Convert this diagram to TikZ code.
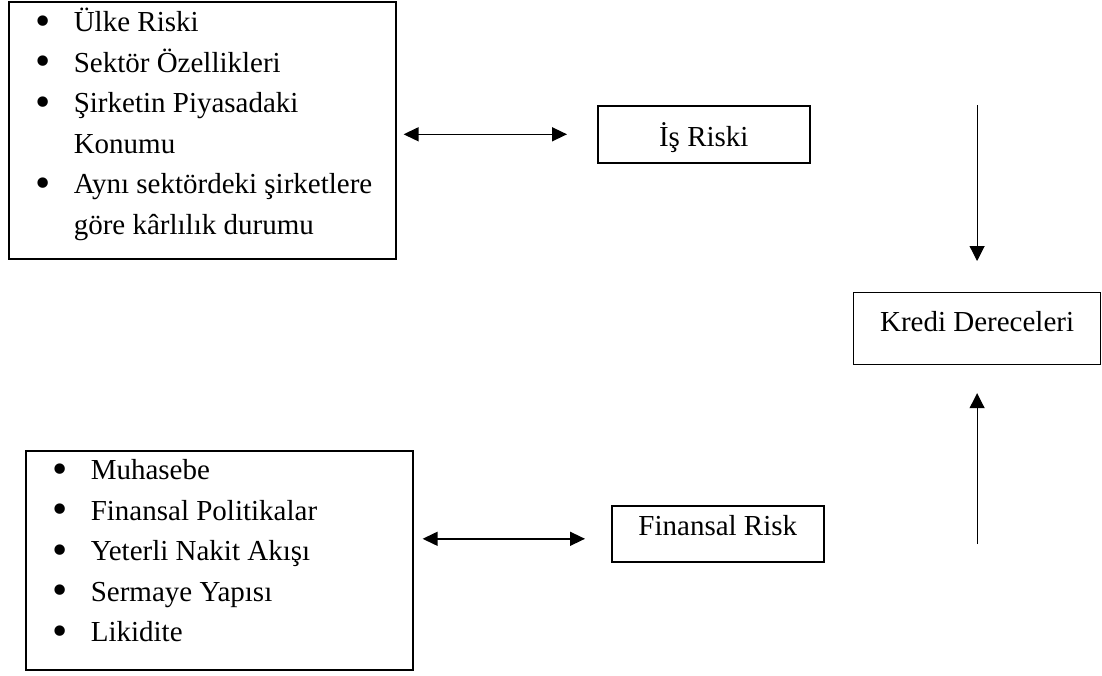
\documentclass[tikz,border=0pt]{standalone}
\usepackage{fontspec}
\usepackage{graphicx}
\setmainfont{Liberation Serif}
\usetikzlibrary{arrows.meta}

\newcommand{\madde}{\makebox[65pt][l]{\hspace{27pt}\raisebox{-3.5pt}{\scalebox{1.5}{\textbullet}}}}

\begin{document}
\begin{tikzpicture}[x=1pt,y=-1pt,
  kutu/.style={draw, line width=1.6pt, inner sep=0pt, anchor=north west,
    font=\fontsize{29}{35}\selectfont},
  ciftok/.style={line width=1.5pt, {Triangle[length=15pt,width=14pt]}-{Triangle[length=15pt,width=14pt]}},
  tekok/.style={line width=1.1pt, -{Triangle[length=15pt,width=15pt]}}]
  \useasboundingbox (0,0) rectangle (1102,675);

  \node[kutu] (isliste) at (8,1) {\parbox[c][257pt][t]{387pt}{%
    \fontsize{29}{40.5}\selectfont
    \rule{0pt}{30pt}\madde Ülke Riski\\
    \madde Sektör Özellikleri\\
    \madde Şirketin Piyasadaki\\
    \hspace*{65pt}Konumu\\
    \madde Aynı sektördeki şirketlere\\
    \hspace*{65pt}göre kârlılık durumu}};
  \node[kutu, minimum width=212pt, minimum height=57pt,
    text height=41pt, text depth=16pt] (isrisk) at (597,105) {İş Riski};
  \node[kutu, line width=1.2pt, minimum width=247pt, minimum height=72pt,
    text height=39pt, text depth=33pt] (kredi) at (853,292) {Kredi Dereceleri};
  \node[kutu, minimum width=212pt, minimum height=56pt,
    text height=30pt, text depth=26pt] (finrisk) at (611,505) {Finansal Risk};
  \node[kutu] (finliste) at (25,450) {\parbox[c][219pt][t]{387pt}{%
    \fontsize{29}{40.5}\selectfont
    \rule{0pt}{29pt}\madde Muhasebe\\
    \madde Finansal Politikalar\\
    \madde Yeterli Nakit Akışı\\
    \madde Sermaye Yapısı\\
    \madde Likidite}};

  \coordinate (finok) at ([yshift=-5pt]finrisk.west);
  \coordinate (altuc) at (kredi.south |- 0,544);
  \draw[ciftok, shorten <=7pt, shorten >=30pt] (isliste.east |- isrisk.west) -- (isrisk.west);
  \draw[ciftok, shorten <=9pt, shorten >=26pt] (finliste.east |- finok) -- (finok);
  \draw[tekok, shorten >=31pt] (kredi.north |- isrisk.north) -- (kredi.north);
  \draw[tekok, shorten >=28pt] (altuc) -- (kredi.south);
\end{tikzpicture}
\end{document}
